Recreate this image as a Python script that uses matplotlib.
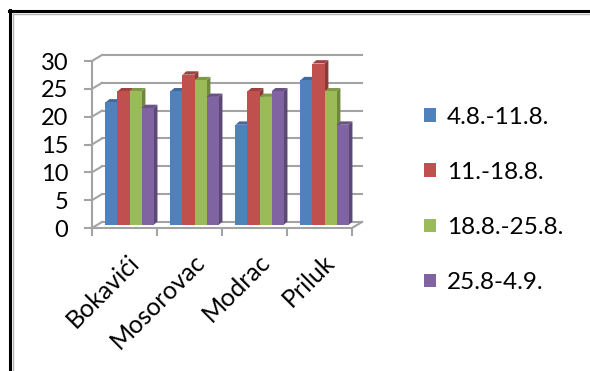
import matplotlib
matplotlib.use("Agg")
import matplotlib.pyplot as plt
from matplotlib.patches import Polygon
from matplotlib.lines import Line2D
from matplotlib.colors import to_rgb

plt.rcParams['font.family'] = ['Lato', 'DejaVu Sans']

stations = ['Bokavići', 'Mosorovac', 'Modrac', 'Priluk']
periods = ['4.8.-11.8.', '11.-18.8.', '18.8.-25.8.', '25.8-4.9.']
values = [
    [22, 24, 18, 26],   # 4.8.-11.8.
    [24, 27, 24, 29],   # 11.-18.8.
    [24, 26, 23, 24],   # 18.8.-25.8.
    [21, 23, 24, 18],   # 25.8-4.9.
]
yticks = [0, 5, 10, 15, 20, 25, 30]
colors = ['#4f81bd', '#c0504d', '#9bbb59', '#8064a2']

# fake 3d: depth of the walls and of each column, in data units
WX, WY = 0.154, 1.08
BX, BY = 0.077, 0.55
DX, DY = 0.06, 0.6
width = 0.185
grid_c = '#a3a3a3'


def shade(c, f):
    r, g, b = to_rgb(c)
    return (r * f, g * f, b * f)


fig = plt.figure(figsize=(5.9, 3.71), dpi=100)
ax = fig.add_axes([92 / 590, 1 - 228 / 371, 260 / 590, 167 / 371])
ax.set_xlim(-0.5, 3.5)
ax.set_ylim(0, 30)
for s in ax.spines.values():
    s.set_visible(False)

# walls and floor
for v in yticks:
    ax.plot([-0.5 + WX, 3.5 + WX], [v + WY, v + WY], color=grid_c, lw=1.5,
            clip_on=False, zorder=1)
    ax.plot([-0.5, -0.5 + WX], [v, v + WY], color=grid_c, lw=1.5,
            clip_on=False, zorder=1)
ax.plot([3.5, 3.5 + WX], [0, WY], color=grid_c, lw=1.5, clip_on=False, zorder=1)
ax.plot([-0.5, -0.5], [0, 30], color=grid_c, lw=1.5, clip_on=False, zorder=1)
ax.plot([-0.5, 3.5], [0, 0], color=grid_c, lw=1.5, clip_on=False, zorder=1)

# columns, drawn left to right so each front hides the neighbour's side
handles = []
z = 3
for i in range(len(stations)):
    for j, per in enumerate(periods):
        v = values[j][i]
        x0 = i + (j - 2) * width + BX
        x1 = x0 + width
        side = Polygon([(x1, BY), (x1 + DX, BY + DY), (x1 + DX, v + BY + DY), (x1, v + BY)],
                       closed=True, facecolor=shade(colors[j], 0.72), edgecolor='none',
                       zorder=z, clip_on=False)
        top = Polygon([(x0, v + BY), (x0 + DX, v + BY + DY), (x1 + DX, v + BY + DY), (x1, v + BY)],
                      closed=True, facecolor=shade(colors[j], 0.82), edgecolor='none',
                      zorder=z, clip_on=False)
        ax.add_patch(side)
        ax.add_patch(top)
        b = ax.bar(x0, v, width, bottom=BY, align='edge', color=colors[j],
                   zorder=z + 1, clip_on=False)
        if i == 0:
            handles.append(b[0])
        z += 2

ax.set_yticks(yticks)
ax.set_yticklabels([str(t) for t in yticks])
ax.tick_params(axis='y', length=6, width=1.5, color=grid_c, labelsize=17, pad=11)

ax.set_xticks([-0.5, 0.5, 1.5, 2.5, 3.5])
ax.set_xticklabels([])
ax.set_xticks([i + 0.05 for i in range(len(stations))], minor=True)
ax.set_xticklabels(stations, minor=True, rotation=45, ha='right',
                   rotation_mode='anchor', fontsize=18)
ax.tick_params(axis='x', which='major', length=6, width=1.5, color=grid_c)
ax.tick_params(axis='x', which='minor', length=0, pad=16)

fig.legend(handles, periods, loc='upper left', bbox_to_anchor=(424 / 590, 1 - 107 / 371),
           frameon=False, fontsize=17.5, handlelength=0.5, handleheight=0.5,
           handletextpad=0.45, labelspacing=1.4, borderaxespad=0, borderpad=0)

# outer frame
fig.add_artist(Line2D([9 / 590, 1], [1 - 11 / 371, 1 - 11 / 371], color='black', lw=2.2))
fig.add_artist(Line2D([10 / 590, 10 / 590], [0, 1 - 10 / 371], color='black', lw=2.2))
fig.add_artist(Line2D([13 / 590, 1], [1 - 13.5 / 371, 1 - 13.5 / 371], color='#b5b5b5', lw=1))
fig.add_artist(Line2D([13 / 590, 13 / 590], [0, 1 - 13.5 / 371], color='#b5b5b5', lw=1))

fig.savefig('out.png', dpi=100)
